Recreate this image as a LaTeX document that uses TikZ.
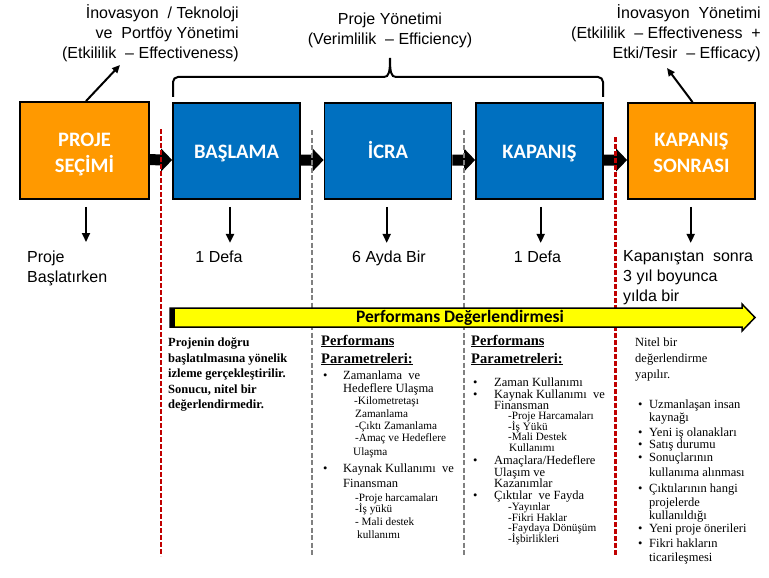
\documentclass[tikz,border=0pt]{standalone}
\usepackage{fontspec}
\setmainfont{Liberation Sans}
\newfontfamily\carlito{Carlito}
\newfontfamily\tnr{Liberation Serif}
\usetikzlibrary{arrows.meta,calc}
\definecolor{boxblue}{RGB}{0,112,192}
\definecolor{boxorange}{RGB}{255,153,0}
\definecolor{darkred}{RGB}{192,0,0}
\definecolor{dgray}{RGB}{128,128,128}
\definecolor{barY}{RGB}{255,255,0}
\newcommand\bitem[1]{\makebox[#1][l]{•}}
\newcommand\topstrut{\rule{0pt}{22pt}}
\newcommand\botstrut{\rule[-5pt]{0pt}{5pt}}
\newcommand\blockarrow[2]{%
  \fill ($(#1.east)+(0,3.5)$) -- ($(#2.west)+(-11,3.5)$) -- ($(#2.west)+(-11,-2.5)$) -- ($(#2.west)+(0,9)$)
   -- ($(#2.west)+(-11,20.5)$) -- ($(#2.west)+(-11,14.5)$) -- ($(#1.east)+(0,14.5)$) -- cycle;}
\begin{document}
\begin{tikzpicture}[x=1pt,y=-1pt,
  phase/.style={draw=black,line width=1.8pt,minimum width=127pt,minimum height=96pt,inner sep=0pt,
    text=white,align=center,font=\carlito\bfseries\fontsize{20.5}{26}\selectfont},
  oneline/.style={text height=16pt,text depth=1pt},
  bluebox/.style={phase,fill=boxblue},
  orangebox/.style={phase,fill=boxorange},
  toptext/.style={font=\fontsize{16}{20}\selectfont,inner sep=0pt},
  reddash/.style={draw=darkred,line width=2.6pt,dash pattern=on 5pt off 2pt},
  graydash/.style={draw=dgray,line width=2pt,dash pattern=on 5pt off 2.5pt},
  downarrow/.style={line width=2pt,-{Triangle[width=8pt,length=9pt]}},
  diagarrow/.style={line width=2pt,-{Triangle[width=7pt,length=8pt]}},
  bracepath/.style={line width=2pt},
  sbold/.style={font=\tnr\bfseries\fontsize{12.5}{14}\selectfont,anchor=base west,inner sep=0pt},
  shead/.style={font=\tnr\bfseries\fontsize{14.5}{16}\selectfont,anchor=base west,inner sep=0pt},
  smain/.style={font=\tnr\fontsize{12.5}{14}\selectfont,anchor=base west,inner sep=0pt},
  ssub/.style={font=\tnr\fontsize{11.2}{12}\selectfont,anchor=base west,inner sep=0pt}]
\useasboundingbox (0,0) rectangle (769,578);

% phase boxes
\node[orangebox,minimum width=129pt,minimum height=97pt] (sec) at (84.5,150.5) {\topstrut PROJE\\SEÇİMİ\botstrut};
\node[bluebox,oneline] (bas) at (236.5,151) {BAŞLAMA};
\node[bluebox,oneline] (icra) at (388,151) {İCRA};
\node[bluebox,oneline] (kap) at (539.5,151) {KAPANIŞ};
\node[orangebox] (kaps) at (691.5,151) {\topstrut KAPANIŞ\\SONRASI\botstrut};

% block arrows
\blockarrow{sec}{bas}
\blockarrow{bas}{icra}
\blockarrow{icra}{kap}
\blockarrow{kap}{kaps}

% top texts
\node[toptext,align=right,anchor=north east] (tl) at (239,4.5) {İnovasyon\ \ / Teknoloji\\ve\ \ Portföy Yönetimi\\(Etkililik\ \ – Effectiveness)};
\node[toptext,align=center,anchor=north] (tm) at (390,12.3) {Proje Yönetimi\\(Verimlilik\ \ – Efficiency)};
\node[toptext,align=right,anchor=north east] (tr) at (761,4.5) {İnovasyon\ \ Yönetimi\\(Etkililik\ \ – Effectiveness\ \ +\\Etki/Tesir\ \ – Efficacy)};

\coordinate (tipl) at (120,65);
\coordinate (tipr) at (667,68);
\draw[diagarrow] ($(sec.north)+(1.5,0)$) -- (tipl);
\draw[diagarrow] ($(kaps.north)+(1,0)$) -- (tipr);

% brace
\draw[bracepath,rounded corners=5pt] (173,97) -- (173,77) -- (384,77);
\draw[bracepath] (384,77) .. controls (389,77) and (390,72) .. (390,58) .. controls (390,72) and (391,77) .. (396,77);
\draw[bracepath,rounded corners=5pt] (396,77) -- (603,77) -- (603,97);

% frequency labels
\coordinate (f1) at (86,242);
\node[toptext,align=left,anchor=north west] (lbl1) at (27,250.5) {Proje\\Başlatırken};
\node[toptext,anchor=base] (lbl2) at (219,262) {1 Defa};
\node[toptext,anchor=base] (lbl3) at (389,262) {6 Ayda Bir};
\node[toptext,anchor=base] (lbl4) at (537.5,262) {1 Defa};
\node[toptext,align=left,anchor=north west] (lbl5) at (623,250.5) {Kapanıştan\ \ sonra\\3 yıl boyunca\\yılda bir};
\draw[downarrow] ($(sec.south)+(1.5,7)$) -- (f1);
\draw[downarrow] ($(bas.south)+(-6.5,7)$) -- ($(bas.south)+(-6.5,43)$);
\draw[downarrow] ($(icra.south)+(-1.3,7)$) -- ($(icra.south)+(-1.3,43)$);
\draw[downarrow] ($(kap.south)+(1.2,7)$) -- ($(kap.south)+(1.2,43)$);
\draw[downarrow] ($(kaps.south)+(-0.8,7)$) -- ($(kaps.south)+(-0.8,43)$);

% dashed separators
\draw[reddash] (161,129) -- (161,556);
\draw[graydash] (312,130) -- (312,556);
\draw[graydash] (463.5,130) -- (463.5,556);
\draw[reddash] (615.5,137) -- (615.5,556);

% performance bar
\filldraw[fill=barY,draw=black,line width=1.5pt] (170,308) -- (742,308) -- (742,304) -- (755,317.5) -- (742,331) -- (742,327) -- (170,327) -- cycle;
\fill (170,308) rectangle (175,327);
\node[font=\carlito\bfseries\fontsize{17.5}{21}\selectfont,inner sep=0pt] (perf) at (460,318) {Performans Değerlendirmesi};

% block 1
\node[sbold] (a1) at (168,346.5) {Projenin doğru};
\node[sbold] (a2) at (168,362) {başlatılmasına yönelik};
\node[sbold] (a3) at (168,377.5) {izleme gerçekleştirilir.};
\node[sbold] (a4) at (168,393) {Sonucu, nitel bir};
\node[sbold] (a5) at (168,408.5) {değerlendirmedir.};

% block 2
\node[shead] (b1) at (321,345) {\underline{Performans}};
\node[shead] (b2) at (321,363) {\underline{Parametreleri:}};
\node[smain] (b3) at (323,379) {\bitem{20pt}Zamanlama\ \ ve};
\node[smain] (b4) at (343,392) {Hedeflere Ulaşma};
\node[ssub] (b5) at (354,404.5) {-Kilometretaşı};
\node[ssub] (b6) at (355,417.5) {Zamanlama};
\node[ssub] (b7) at (355,429.5) {-Çıktı Zamanlama};
\node[ssub] (b8) at (355,441.5) {-Amaç ve Hedeflere};
\node[ssub] (b9) at (353,455.5) {Ulaşma};
\node[smain] (b10) at (323,472) {\bitem{20pt}Kaynak Kullanımı\ \ ve};
\node[smain] (b11) at (343,487) {Finansman};
\node[ssub] (b12) at (355,501.5) {-Proje harcamaları};
\node[ssub] (b13) at (355,512.5) {-İş yükü};
\node[ssub] (b14) at (355,525.5) {- Mali destek};
\node[ssub] (b15) at (357,538.5) {kullanımı};

% block 3
\node[shead] (c1) at (471,345) {\underline{Performans}};
\node[shead] (c2) at (471,363) {\underline{Parametreleri:}};
\node[smain] (c3) at (473,386) {\bitem{21pt}Zaman Kullanımı};
\node[smain] (c4) at (473,398) {\bitem{21pt}Kaynak Kullanımı\ \ ve};
\node[smain] (c5) at (494,409) {Finansman};
\node[ssub] (c6) at (508,419.5) {-Proje Harcamaları};
\node[ssub] (c7) at (508,430.5) {-İş Yükü};
\node[ssub] (c8) at (508,440.5) {-Mali Destek};
\node[ssub] (c9) at (509,451.5) {Kullanımı};
\node[smain] (c10) at (473,464) {\bitem{21pt}Amaçlara/Hedeflere};
\node[smain] (c11) at (494,476) {Ulaşım ve};
\node[smain] (c12) at (494,487) {Kazanımlar};
\node[smain] (c13) at (473,499) {\bitem{21pt}Çıktılar\ \ ve Fayda};
\node[ssub] (c14) at (508,510.5) {-Yayınlar};
\node[ssub] (c15) at (508,521.5) {-Fikri Haklar};
\node[ssub] (c16) at (508,531.5) {-Faydaya Dönüşüm};
\node[ssub] (c17) at (508,542.5) {-İşbirlikleri};

% block 4
\node[smain] (d1) at (635,346) {Nitel bir};
\node[smain] (d2) at (635,362) {değerlendirme};
\node[smain] (d3) at (635,378) {yapılır.};
\node[smain] (d4) at (638,408) {\bitem{11pt}Uzmanlaşan insan};
\node[smain] (d5) at (649,421) {kaynağı};
\node[smain] (d6) at (638,436) {\bitem{11pt}Yeni iş olanakları};
\node[smain] (d7) at (638,448) {\bitem{11pt}Satış durumu};
\node[smain] (d8) at (638,461) {\bitem{11pt}Sonuçlarının};
\node[smain] (d9) at (649,476) {kullanıma alınması};
\node[smain] (d10) at (638,492) {\bitem{11pt}Çıktılarının hangi};
\node[smain] (d11) at (649,506) {projelerde};
\node[smain] (d12) at (649,519) {kullanıldığı};
\node[smain] (d13) at (638,532) {\bitem{11pt}Yeni proje önerileri};
\node[smain] (d14) at (638,547) {\bitem{11pt}Fikri hakların};
\node[smain] (d15) at (649,561) {ticarileşmesi};
\end{tikzpicture}
\end{document}
